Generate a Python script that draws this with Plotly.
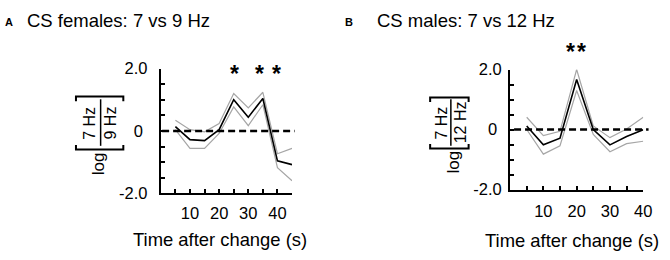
import plotly.graph_objects as go

# ---------------- data ----------------
t_a = [5, 10, 15, 20, 25, 30, 35, 40, 45]
mean_a = [0.14, -0.28, -0.31, 0.04, 1.00, 0.44, 1.04, -0.96, -1.08]
upper_a = [0.34, 0.04, -0.03, 0.24, 1.20, 0.74, 1.24, -0.73, -0.56]
lower_a = [0.04, -0.56, -0.56, -0.08, 0.77, 0.17, 0.84, -1.18, -1.60]

t_b = [5, 10, 15, 20, 25, 30, 35, 40]
mean_b = [0.12, -0.51, -0.29, 1.67, 0.00, -0.51, -0.23, -0.01]
upper_b = [0.41, -0.20, -0.06, 2.00, 0.12, -0.27, 0.02, 0.41]
lower_b = [0.00, -0.82, -0.54, 1.30, -0.16, -0.74, -0.47, -0.39]

x_tickvals_a = [5, 10, 15, 20, 25, 30, 35, 40, 45]
x_ticktext_a = ["", "10", "", "20", "", "30", "", "40", ""]
x_tickvals_b = [5, 10, 15, 20, 25, 30, 35, 40]
x_ticktext_b = ["", "10", "", "20", "", "30", "", "40"]
y_tickvals = [-2.0, -1.5, -1.0, -0.5, 0.0, 0.5, 1.0, 1.5, 2.0]
y_ticktext = ["-2.0", "", "", "", "0\u00a0", "", "", "", "2.0"]

title_a = "CS females: 7 vs 9 Hz"
title_b = "CS males: 7 vs 12 Hz"
xlabel = "Time after change (s)"
stars_a = [25.4, 33.8, 39.6]
stars_b = [18.2, 21.6]

# ---------------- layout helpers ----------------
W, H = 670, 260
FONT = "Liberation Sans, Arial, sans-serif"
GRAY = "#a6a6a6"


def px(x):
    return x / W


def py(y):
    return 1 - y / H


fig = go.Figure()

for (t, lo, up, mn, xa, ya) in [
    (t_a, lower_a, upper_a, mean_a, "x", "y"),
    (t_b, lower_b, upper_b, mean_b, "x2", "y2"),
]:
    fig.add_trace(go.Scatter(x=t, y=up, mode="lines", line=dict(color=GRAY, width=1.2),
                             xaxis=xa, yaxis=ya, showlegend=False))
    fig.add_trace(go.Scatter(x=t, y=lo, mode="lines", line=dict(color=GRAY, width=1.2),
                             xaxis=xa, yaxis=ya, showlegend=False))
    fig.add_trace(go.Scatter(x=t, y=mn, mode="lines", line=dict(color="black", width=1.6),
                             xaxis=xa, yaxis=ya, showlegend=False))

axis_common = dict(showgrid=False, zeroline=False, showline=True, linecolor="black",
                   linewidth=2, ticks="inside", ticklen=4, tickwidth=1.5, tickcolor="black",
                   tickfont=dict(family=FONT, size=16.5, color="black"))

fig.update_layout(
    width=W, height=H, margin=dict(l=0, r=0, t=0, b=0),
    paper_bgcolor="white", plot_bgcolor="white",
    font=dict(family=FONT, color="black"),
    xaxis=dict(domain=[px(163), px(296)], range=[0, 45], anchor="y",
               tickvals=x_tickvals_a, ticktext=x_ticktext_a, ticklabelstandoff=4, **axis_common),
    yaxis=dict(domain=[py(198), py(64)], range=[-2, 2], anchor="x",
               tickvals=y_tickvals, ticktext=y_ticktext, ticklabelstandoff=8, **axis_common),
    xaxis2=dict(domain=[px(517), px(652)], range=[0, 40], anchor="y2",
                tickvals=x_tickvals_b, ticktext=x_ticktext_b, ticklabelstandoff=6, **axis_common),
    yaxis2=dict(domain=[py(194), py(65)], range=[-2, 2], anchor="x2",
                tickvals=y_tickvals, ticktext=y_ticktext, ticklabelstandoff=3, **axis_common),
)

shapes = []
# dashed zero lines
shapes.append(dict(type="line", xref="x domain", yref="y", x0=0.01, x1=1.02, y0=0, y1=0,
                   line=dict(color="black", width=2.5, dash="7px,4px")))
shapes.append(dict(type="line", xref="x2 domain", yref="y2", x0=0.03, x1=1.04, y0=0, y1=0,
                   line=dict(color="black", width=2.5, dash="7px,4px")))


def bracket_shapes(x0, x1, ytop, ybot, xbar, bar_top, bar_bot):
    out = []
    out.append(dict(type="path", xref="paper", yref="paper",
                    path=f"M {px(x0)},{py(ytop+5)} L {px(x0)},{py(ytop)} L {px(x1)},{py(ytop)} L {px(x1)},{py(ytop+5)}",
                    line=dict(color="black", width=2)))
    out.append(dict(type="path", xref="paper", yref="paper",
                    path=f"M {px(x0)},{py(ybot-5)} L {px(x0)},{py(ybot)} L {px(x1)},{py(ybot)} L {px(x1)},{py(ybot-5)}",
                    line=dict(color="black", width=2)))
    out.append(dict(type="line", xref="paper", yref="paper", x0=px(xbar), x1=px(xbar),
                    y0=py(bar_top), y1=py(bar_bot), line=dict(color="black", width=1.5)))
    return out


shapes += bracket_shapes(77, 125, 94, 151, 102, 97, 147)
shapes += bracket_shapes(436, 475, 95, 150, 457, 97, 147)
fig.update_layout(shapes=shapes)

ann = []


def txt(x, y, s, size, angle=0, bold=False, xanchor="center", yanchor="middle"):
    ann.append(dict(x=px(x), y=py(y), xref="paper", yref="paper", text=(f"<b>{s}</b>" if bold else s),
                    showarrow=False, textangle=angle, xanchor=xanchor, yanchor=yanchor,
                    font=dict(family=FONT, size=size, color="black")))


# panel letters and titles
txt(3, 14, "A", 11, bold=True, xanchor="left")
txt(25, 12, title_a, 18.5, xanchor="left")
txt(348, 14, "B", 11, bold=True, xanchor="left")
txt(380, 12, title_b, 18.5, xanchor="left")

# x-axis titles
txt(222.5, 247.5, xlabel, 18.4)
txt(580, 249, xlabel, 18.4)

# y-axis fraction labels (rotated)
txt(90, 122.5, "7 Hz", 16, angle=-90)
txt(112, 122.5, "9 Hz", 16, angle=-90)
txt(100, 166, "log", 17, angle=-90)
txt(448, 122, "7 Hz", 16, angle=-90)
txt(467, 122, "12 Hz", 16, angle=-90)
txt(460, 164, "log", 17, angle=-90)

# significance stars
for xv in stars_a:
    ann.append(dict(x=xv, y=py(70), xref="x", yref="paper", text="<b>*</b>", showarrow=False,
                    yanchor="middle", font=dict(family=FONT, size=23, color="black")))
for xv in stars_b:
    ann.append(dict(x=xv, y=py(46), xref="x2", yref="paper", text="<b>*</b>", showarrow=False,
                    yanchor="middle", font=dict(family=FONT, size=23, color="black")))

fig.update_layout(annotations=ann)

fig.write_html("out.html", config={"displayModeBar": False},
               post_script="document.body.style.margin='0';")
